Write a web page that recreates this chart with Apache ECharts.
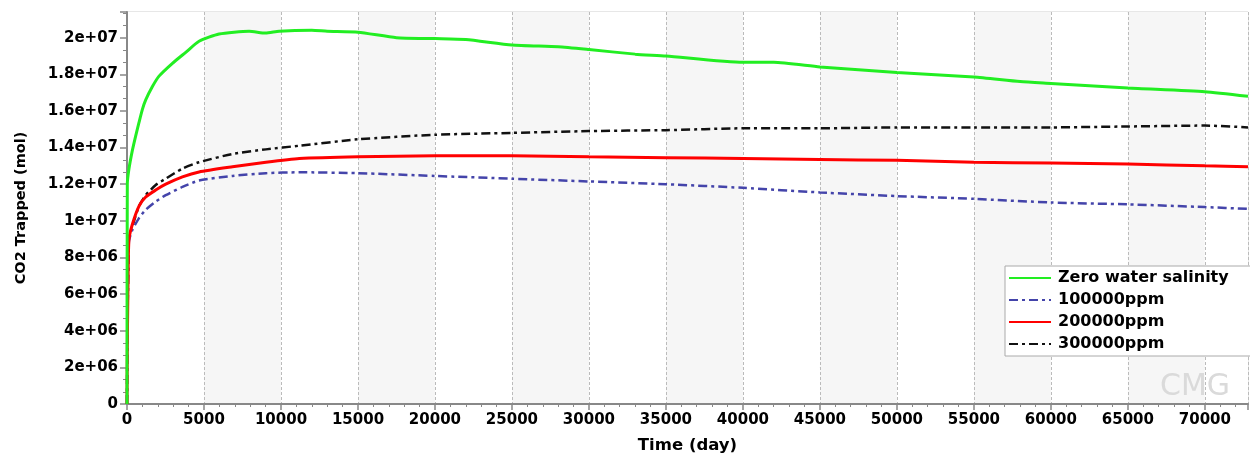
<!DOCTYPE html>
<html><head><meta charset="utf-8">
<script src="https://cdn.jsdelivr.net/npm/echarts@6/dist/echarts.min.js"></script>
<style>html,body{margin:0;padding:0;background:#fff}#c{width:1250px;height:459px}</style>
</head><body><div id="c"></div>
<script>
const seriesNames = ['Zero water salinity', '100000ppm', '200000ppm', '300000ppm'];
const xTicks = [0,5000,10000,15000,20000,25000,30000,35000,40000,45000,50000,55000,60000,65000,70000];
const zeroTime = [0,20,130,345,565,780,995,1215,1650,2080,2950,3815,4680,5980,7930,9000,9880,12000,13000,15000,17500,20000,22000,25000,28000,30000,33000,35000,40000,42000,45000,50000,55000,58000,60000,65000,70000,72800];
const zeroVals = [0,1.2e7,1.285e7,1.383e7,1.464e7,1.537e7,1.607e7,1.66e7,1.733e7,1.79e7,1.86e7,1.92e7,1.98e7,2.02e7,2.035e7,2.025e7,2.035e7,2.04e7,2.035e7,2.03e7,2.0e7,1.995e7,1.99e7,1.96e7,1.95e7,1.935e7,1.91e7,1.90e7,1.865e7,1.865e7,1.84e7,1.81e7,1.785e7,1.76e7,1.75e7,1.725e7,1.705e7,1.68e7];
const saltTime = [0,30,80,130,345,780,1215,1865,2515,3600,4680,6850,9020,11190,15000,20000,25000,30000,35000,40000,45000,50000,55000,60000,65000,70000,72800];
const ppm100 = [0,4e6,7.5e6,8.9e6,9.5e6,10.15e6,10.6e6,11.05e6,11.4e6,11.85e6,12.2e6,12.45e6,12.6e6,12.65e6,12.6e6,12.45e6,12.3e6,12.15e6,12.0e6,11.8e6,11.55e6,11.35e6,11.2e6,11.0e6,10.9e6,10.75e6,10.65e6];
const ppm200 = [0,4e6,7.5e6,9.0e6,9.8e6,10.8e6,11.3e6,11.68e6,12.0e6,12.4e6,12.67e6,12.95e6,13.2e6,13.4e6,13.5e6,13.55e6,13.55e6,13.5e6,13.45e6,13.4e6,13.35e6,13.3e6,13.2e6,13.15e6,13.1e6,13.0e6,12.95e6];
const ppm300 = [0,4e6,7.6e6,9.1e6,9.7e6,10.8e6,11.4e6,11.96e6,12.3e6,12.85e6,13.2e6,13.65e6,13.9e6,14.1e6,14.45e6,14.7e6,14.8e6,14.9e6,14.95e6,15.05e6,15.05e6,15.1e6,15.1e6,15.1e6,15.15e6,15.2e6,15.1e6];

const zip = (t, v) => t.map((x, i) => [x, v[i]]);
const font = '"DejaVu Sans", sans-serif';
const chart = echarts.init(document.getElementById('c'));
chart.setOption({
  animation: false,
  backgroundColor: '#fff',
  grid: {left: 127, right: 2, top: 12, bottom: 50, containLabel: false, show: true, borderColor: '#cfcfcf', borderWidth: 1},
  graphic: [{type: 'text', left: 1160, top: 372, z: 100, style: {text: 'CMG', fill: '#dadada', font: 'normal 30px "DejaVu Sans", sans-serif'}}],
  legend: {
    orient: 'vertical', left: 1005, top: 266, width: 243,
    backgroundColor: '#fff', borderColor: '#aaa', borderWidth: 1,
    padding: [4, 60, 4, 3], itemGap: 6, itemWidth: 42, itemHeight: 16,
    itemStyle: {opacity: 0},
    textStyle: {fontFamily: font, fontWeight: 'bold', fontSize: 16, color: '#000', padding: [0, 0, 0, 2]},
    data: seriesNames
  },
  xAxis: {
    type: 'value', min: 0, max: 72800, interval: 5000,
    name: 'Time (day)', nameLocation: 'middle', nameGap: 33,
    nameTextStyle: {fontFamily: font, fontWeight: 'bold', fontSize: 16.5, color: '#000'},
    axisLine: {lineStyle: {color: '#888', width: 2}},
    axisTick: {show: true, length: 6, lineStyle: {color: '#888', width: 1.5}},
    minorTick: {show: true, splitNumber: 5, length: 3, lineStyle: {color: '#888'}},
    axisLabel: {fontFamily: font, fontWeight: 'bold', fontSize: 15, color: '#000', margin: 9, showMaxLabel: false,
      formatter: v => xTicks.includes(v) ? String(v) : ''},
    splitLine: {show: true, lineStyle: {color: '#bbb', type: [3, 2]}},
    splitArea: {show: true, areaStyle: {color: ['#ffffff', '#f6f6f6']}}
  },
  yAxis: {
    type: 'value', min: 0, max: 2.14e7, interval: 2e6,
    name: 'CO2 Trapped (mol)', nameLocation: 'middle', nameGap: 98,
    nameTextStyle: {fontFamily: font, fontWeight: 'bold', fontSize: 14.5, color: '#000'},
    axisLine: {show: true, lineStyle: {color: '#888', width: 2}},
    axisTick: {show: true, length: 7, lineStyle: {color: '#888', width: 1.5}},
    minorTick: {show: true, splitNumber: 3, length: 4, lineStyle: {color: '#888'}},
    axisLabel: {fontFamily: font, fontWeight: 'bold', fontSize: 15, color: '#000', margin: 9, showMaxLabel: false,
      formatter: v => v === 0 ? '0' : v.toExponential().replace(/e\+(\d)$/, 'e+0$1')},
    splitLine: {show: true, lineStyle: {color: '#bbb', type: [3, 2]}}
  },
  series: [
    {name: seriesNames[0], type: 'line', symbol: 'none', smooth: 0.2, data: zip(zeroTime, zeroVals), color: '#22ee22', lineStyle: {width: 3, color: '#22ee22'}, z: 4},
    {name: seriesNames[1], type: 'line', symbol: 'none', smooth: 0.2, data: zip(saltTime, ppm100), color: '#4444aa', lineStyle: {width: 2.5, color: '#4444aa', type: [9, 4, 3, 4]}, z: 2},
    {name: seriesNames[2], type: 'line', symbol: 'none', smooth: 0.2, data: zip(saltTime, ppm200), color: '#ff0000', lineStyle: {width: 3, color: '#ff0000'}, z: 3},
    {name: seriesNames[3], type: 'line', symbol: 'none', smooth: 0.2, data: zip(saltTime, ppm300), color: '#111111', lineStyle: {width: 2.5, color: '#111111', type: [9, 4, 3, 4]}, z: 1}
  ]
});
</script></body></html>
